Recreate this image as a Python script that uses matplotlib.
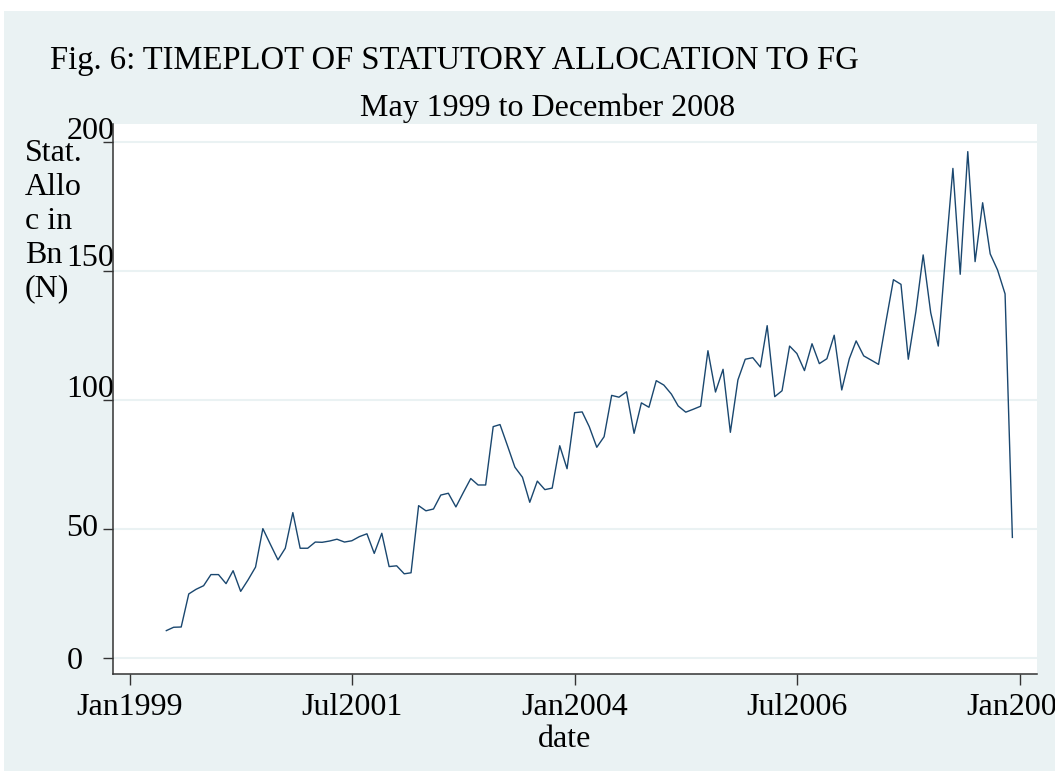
import matplotlib
matplotlib.use("Agg")
import matplotlib.pyplot as plt
import matplotlib.transforms as mtransforms
import pandas as pd

# ---- data (monthly statutory allocation to FG, Bn Naira) ----
start_month = "1999-06-01"
values = [10.6, 11.9, 12.0, 24.8, 26.6, 28.0, 32.3, 32.3, 28.8, 33.8,
          25.8, 30.2, 35.2, 50.1, 44.0, 38.0, 42.5, 56.3, 42.5, 42.5,
          44.9, 44.8, 45.3, 46.0, 44.9, 45.4, 47.0, 48.1, 40.5, 48.3,
          35.4, 35.7, 32.6, 33.0, 59.0, 57.0, 57.7, 63.1, 63.8, 58.5,
          64.0, 69.5, 67.0, 67.0, 89.6, 90.4, 82.1, 73.9, 70.0, 60.3,
          68.5, 65.2, 65.8, 82.2, 73.3, 95.0, 95.3, 89.6, 81.6, 85.7,
          101.7, 101.0, 103.1, 87.0, 98.8, 97.1, 107.4, 105.7, 102.2, 97.6,
          95.2, 96.3, 97.5, 119.0, 103.0, 111.8, 87.4, 107.7, 115.7, 116.3,
          112.7, 128.7, 101.2, 103.5, 120.8, 117.9, 111.3, 121.7, 114.0, 115.9,
          125.0, 103.8, 115.9, 122.8, 117.0, 115.4, 113.7, 130.1, 146.5, 144.7,
          115.7, 134.1, 156.1, 133.7, 120.8, 155.0, 189.6, 148.6, 196.1, 153.5,
          176.3, 156.5, 150.3, 141.0, 46.7]
dates = pd.date_range(start_month, periods=len(values), freq="MS")

xtick_dates = ["1999-01-01", "2001-07-01", "2004-01-01", "2006-07-01", "2009-01-01"]
xtick_labels = ["Jan1999", "Jul2001", "Jan2004", "Jul2006", "Jan2009"]
yticks = [0, 50, 100, 150, 200]
ytick_labels = ["0", "50", "100", "150", "200"]

title = "Fig. 6: TIMEPLOT OF STATUTORY ALLOCATION TO FG"
subtitle = "May 1999 to December 2008"
ylabel = "Stat.\nAllo\nc in\nBn\n(N)"
xlabel = "date"

# ---- style ----
W, H = 1055, 771
BG = "#eaf2f3"
LINE = "#1a476f"
FONT = "Liberation Serif"
FS = 23
# vertical nudges (pixels, up positive) of the y tick labels as placed in the original
ylabel_nudge = [-4, 0, 10, 12, 10]

plt.rcParams["font.family"] = [FONT, "DejaVu Serif"]

fig = plt.figure(figsize=(W / 100, H / 100), dpi=100, facecolor="white")
fig.patches.append(plt.Rectangle((4 / W, 0), 1, 1 - 11 / H, transform=fig.transFigure,
                                 facecolor=BG, edgecolor="none", zorder=-10))

def fx(px):
    return px / W

def fy(py):
    return 1 - py / H

ax_l, ax_r, ax_t, ax_b = 112.7, 1037, 124, 674
ax = fig.add_axes([fx(ax_l), fy(ax_b), fx(ax_r - ax_l), (ax_b - ax_t) / H])
ax.set_facecolor("white")

ax.plot(dates, values, color=LINE, lw=1.0, zorder=3)

x0 = pd.Timestamp("1999-01-01") - pd.Timedelta(days=69)
x1 = pd.Timestamp("2009-01-01") + pd.Timedelta(days=70)
ax.set_xlim(x0, x1)
ax.set_ylim(-6.2, 206.8)

ax.set_yticks(yticks)
ax.set_yticklabels(ytick_labels, fontsize=FS)
ax.set_xticks(pd.to_datetime(xtick_dates))
ax.set_xticklabels(xtick_labels, fontsize=FS)

ax.grid(axis="y", color=BG, lw=1.5, zorder=0)
ax.grid(axis="x", visible=False)

for s in ["top", "right"]:
    ax.spines[s].set_visible(False)
for s in ["left", "bottom"]:
    ax.spines[s].set_color("#333333")
    ax.spines[s].set_linewidth(1.1)

ax.tick_params(axis="y", length=7.2, width=1.0, color="#333333", pad=26)
ax.tick_params(axis="x", length=8.0, width=1.0, color="#333333", pad=6)
for lbl, dy in zip(ax.get_yticklabels(), ylabel_nudge):
    lbl.set_horizontalalignment("left")
    lbl.set_verticalalignment("center")
    lbl.set_transform(lbl.get_transform() +
                      mtransforms.ScaledTranslation(0, dy / 100, fig.dpi_scale_trans))

fig.text(fx(50), fy(69), title, fontsize=FS + 0.5, ha="left", va="baseline")
fig.text(fx(548), fy(116), subtitle, fontsize=FS, ha="center", va="baseline")
fig.text(fx(25), fy(139), ylabel, fontsize=FS, ha="left", va="top", linespacing=1.22)
fig.text(fx(565), fy(747), xlabel, fontsize=FS, ha="center", va="baseline")

fig.savefig("out.png", dpi=100, facecolor="white")
